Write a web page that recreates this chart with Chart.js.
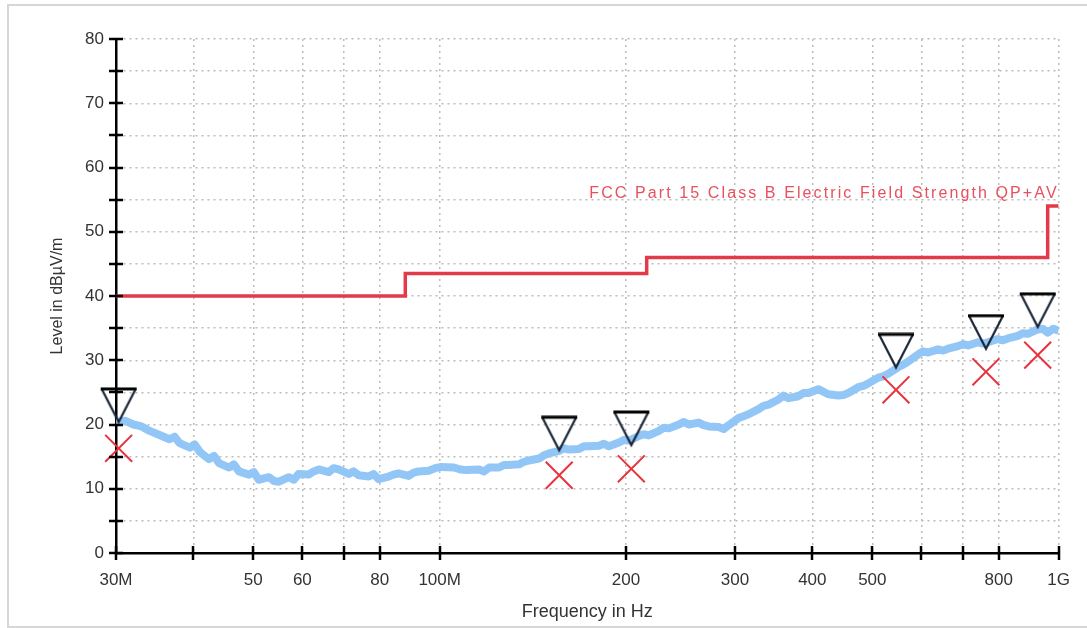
<!DOCTYPE html>
<html>
<head>
<meta charset="utf-8">
<script src="https://cdn.jsdelivr.net/npm/chart.js@4.4.1/dist/chart.umd.min.js"></script>
<style>
  html, body { margin: 0; padding: 0; background: #fff; overflow: hidden; }
  #wrap { position: relative; width: 1087px; height: 628px; overflow: hidden; }
  #frame { position: absolute; left: 7px; top: 4px; width: 1200px; height: 620px;
           border: 2px solid #d6d6d6; pointer-events: none; }
</style>
</head>
<body>
<div id="wrap">
  <canvas id="emc"></canvas>
  <div id="frame"></div>
</div>
<script>
// frequencies in MHz
const xTicks = [30, 40, 50, 60, 70, 80, 100, 200, 300, 400, 500, 600, 700, 800, 1000];
const xTickLabels = ["30M", "", "50", "60", "", "80", "100M", "200", "300", "400", "500", "", "", "800", "1G"];

// measured trace (preview scan)
const traceFreq = [30.0, 31.0, 32.0, 33.0, 34.0, 35.2, 36.6, 37.3, 38.0, 39.5, 40.2, 41.0, 42.4, 43.2, 44.0,
  45.7, 46.5, 47.4, 49.2, 50.1, 51.0, 53.0, 54.0, 55.0, 57.1, 58.1, 59.2, 61.4, 62.6, 63.8, 66.2, 67.4,
  68.7, 71.3, 72.6, 74.0, 76.8, 78.2, 79.7, 82.7, 84.2, 85.8, 89.1, 90.8, 92.5, 96.0, 98.3, 100.6,
  105.5, 108.0, 110.5, 115.8, 118.0, 120.2, 124.7, 127.0, 129.4, 134.3, 136.8, 139.4, 144.7, 147.4,
  150.2, 155.9, 158.8, 161.8, 167.9, 171.0, 174.2, 180.8, 184.2, 187.7, 194.8, 198.5, 202.2, 209.8,
  213.7, 217.7, 226.0, 230.3, 234.6, 243.4, 248.0, 252.5, 262.1, 267.0, 272.0, 282.3, 287.6, 293.0,
  304.0, 309.7, 315.5, 327.5, 333.6, 339.9, 352.7, 359.3, 366.0, 379.9, 387.0, 394.3, 409.1, 416.8,
  424.6, 440.6, 448.9, 457.3, 474.6, 483.5, 492.6, 511.1, 520.7, 530.5, 550.4, 560.7, 571.2, 592.8,
  603.9, 615.3, 638.5, 650.5, 662.7, 687.7, 700.6, 713.8, 740.7, 754.6, 768.7, 797.5, 812.6, 827.8,
  859.0, 875.1, 891.5, 925.1, 942.5, 960.0, 980.0, 1000];
const traceLevel = [20.4, 20.6, 20.0, 19.7, 19.0, 18.4, 17.7, 18.1, 17.1, 16.4, 16.9, 15.7, 14.6, 15.1, 14.0,
  13.3, 13.8, 12.7, 12.2, 12.6, 11.4, 11.8, 11.2, 11.1, 11.8, 11.4, 12.3, 12.2, 12.7, 13.0, 12.6, 13.2,
  13.0, 12.3, 12.7, 12.1, 11.9, 12.3, 11.5, 11.9, 12.2, 12.4, 12.0, 12.5, 12.7, 12.8, 13.2, 13.4,
  13.3, 13.0, 12.9, 13.0, 12.7, 13.3, 13.3, 13.7, 13.7, 13.8, 14.2, 14.4, 14.7, 15.2, 15.5, 15.9, 16.3,
  16.1, 16.2, 16.6, 16.6, 16.7, 17.0, 16.6, 17.2, 17.6, 17.5, 18.2, 18.5, 18.3, 19.0, 19.5, 19.4,
  20.0, 20.4, 20.0, 20.3, 19.9, 19.7, 19.6, 19.3, 19.9, 21.0, 21.3, 21.6, 22.4, 22.9, 23.1, 23.9,
  24.5, 24.1, 24.4, 24.9, 24.9, 25.5, 25.1, 24.7, 24.5, 24.6, 24.9, 25.8, 26.0, 26.4, 27.3, 27.5, 27.9,
  28.9, 29.3, 29.8, 30.9, 31.4, 31.2, 31.7, 31.5, 31.8, 32.2, 32.5, 32.3, 32.8, 32.6, 32.8, 33.3,
  33.1, 33.4, 33.8, 34.2, 34.1, 34.8, 34.9, 34.3, 34.9, 34.6];

// limit line, FCC Part 15 Class B (step starts at each frequency)
const limitFreq = [30, 88, 216, 960, 1000];
const limitLevel = [40, 43.5, 46, 54, 54];
const limitName = "FCC Part 15 Class B Electric Field Strength QP+AV";

// peak markers and final QP results
const peakFreq = [30.3, 156, 204, 546, 763, 925];
const peakLevel = [20.4, 16.0, 16.8, 28.9, 31.8, 35.2];
const qpFreq = [30.3, 156, 204, 546, 763, 925];
const qpLevel = [16.3, 12.1, 13.1, 25.4, 28.2, 30.8];

const pts = (xs, ys) => xs.map((x, i) => ({ x: x, y: ys[i] }));

// down-pointing triangle whose apex sits at the canvas centre
function makeTriangle() {
  const c = document.createElement('canvas');
  c.width = 38; c.height = 70;
  const g = c.getContext('2d');
  g.lineJoin = 'miter';
  g.strokeStyle = '#1c2738';
  g.lineWidth = 2.2;
  g.beginPath();
  g.moveTo(2, 2); g.lineTo(19, 35); g.lineTo(36, 2);
  g.stroke();
  g.strokeStyle = '#000';
  g.lineWidth = 3;
  g.beginPath();
  g.moveTo(1, 2); g.lineTo(37, 2);
  g.stroke();
  return c;
}
const triangle = makeTriangle();

// ticks crossing both sides of the axis lines
const crossTicks = {
  id: 'crossTicks',
  afterDraw(chart) {
    const { ctx, scales: { x, y } } = chart;
    ctx.save();
    ctx.strokeStyle = '#000';
    ctx.lineWidth = 2.5;
    ctx.beginPath();
    y.ticks.forEach(t => {
      const py = Math.round(y.getPixelForValue(t.value));
      ctx.moveTo(x.left - 7, py); ctx.lineTo(x.left + 7, py);
    });
    x.ticks.forEach(t => {
      const px = Math.round(x.getPixelForValue(t.value));
      ctx.moveTo(px, y.bottom - 7); ctx.lineTo(px, y.bottom + 7);
    });
    ctx.stroke();
    ctx.restore();
  }
};

const limitLabel = {
  id: 'limitLabel',
  afterDatasetsDraw(chart) {
    const { ctx, chartArea, scales: { y } } = chart;
    ctx.save();
    ctx.font = '16px "Liberation Sans", Arial, sans-serif';
    ctx.letterSpacing = '2.1px';
    ctx.fillStyle = '#e8505e';
    ctx.textAlign = 'right';
    ctx.textBaseline = 'middle';
    ctx.fillText(limitName, chartArea.right, y.getPixelForValue(56));
    ctx.restore();
  }
};

const gridStyle = { color: '#bcbcbc', lineWidth: 1.5, drawTicks: false };
const font = { family: '"Liberation Sans", Arial, sans-serif', size: 17 };

new Chart(document.getElementById('emc'), {
  type: 'line',
  data: {
    datasets: [
      {
        label: 'Peak',
        data: pts(peakFreq, peakLevel),
        showLine: false,
        pointStyle: triangle,
        pointRadius: 18,
        clip: false,
        order: 0
      },
      {
        label: 'QP',
        data: pts(qpFreq, qpLevel),
        showLine: false,
        pointStyle: 'crossRot',
        pointRadius: 19,
        pointBorderColor: '#e8323c',
        pointBorderWidth: 2,
        clip: false,
        order: 1
      },
      {
        label: limitName,
        data: pts(limitFreq, limitLevel),
        borderColor: '#e23a48',
        borderWidth: 3.5,
        stepped: 'before',
        pointRadius: 0,
        order: 2
      },
      {
        label: 'Preview',
        data: pts(traceFreq, traceLevel),
        borderColor: '#92c6f6',
        borderWidth: 8,
        borderJoinStyle: 'round',
        pointRadius: 0,
        tension: 0,
        order: 3
      }
    ]
  },
  options: {
    responsive: true,
    maintainAspectRatio: false,
    animation: false,
    events: [],
    layout: { padding: { top: 39, right: 27, left: 0, bottom: 0 } },
    plugins: { legend: { display: false }, tooltip: { enabled: false } },
    scales: {
      x: {
        type: 'logarithmic',
        min: 30,
        max: 1000,
        afterBuildTicks: s => { s.ticks = xTicks.map(v => ({ value: v })); },
        afterFit: s => { s.height = 75; },
        grid: gridStyle,
        border: { display: true, color: '#000', width: 2.5, dash: [2, 4] },
        ticks: {
          autoSkip: false,
          maxRotation: 0,
          padding: 17,
          color: '#333',
          font: font,
          callback: v => xTickLabels[xTicks.indexOf(v)]
        },
        title: { display: true, text: 'Frequency in Hz', color: '#333',
                 font: { ...font, size: 18 }, padding: { top: 0, bottom: 5 } }
      },
      y: {
        min: 0,
        max: 80,
        afterFit: s => { s.width = 116; },
        grid: gridStyle,
        border: { display: true, color: '#000', width: 2.5, dash: [2, 4] },
        ticks: {
          stepSize: 5,
          padding: 12,
          color: '#333',
          font: font,
          callback: v => (v % 10 === 0 ? v : '')
        },
        title: { display: true, text: 'Level in dBµV/m', color: '#333',
                 font: { ...font, size: 16 }, padding: { top: 48, bottom: 0 } }
      }
    }
  },
  plugins: [crossTicks, limitLabel]
});
</script>
</body>
</html>
